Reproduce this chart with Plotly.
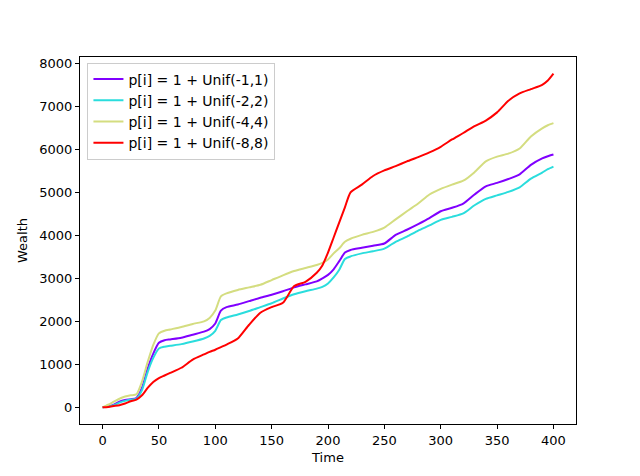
import plotly.graph_objects as go

time = [0, 5, 10, 15, 20, 25, 30, 35, 40, 45, 50, 55, 60, 70, 80, 90, 95, 100, 105, 110,
        120, 130, 140, 150, 160, 170, 180, 190, 195, 200, 205, 210, 215, 220, 230, 240,
        250, 260, 270, 280, 290, 300, 310, 320, 330, 340, 350, 360, 370, 380, 390, 395, 400]

wealth_1 = [0, 20, 60, 130, 170, 190, 215, 450, 900, 1250, 1500, 1560, 1580, 1620, 1690, 1760, 1820, 1950, 2250, 2330,
            2390, 2470, 2550, 2620, 2700, 2790, 2860, 2930, 3000, 3080, 3210, 3400, 3600, 3660, 3710, 3760,
            3810, 4010, 4130, 4260, 4400, 4560, 4640, 4740, 4950, 5140, 5220, 5310, 5420, 5640, 5790, 5840, 5880]

wealth_2 = [0, 15, 50, 110, 150, 175, 200, 400, 820, 1150, 1370, 1410, 1430, 1470, 1530, 1600, 1660, 1780, 2030, 2090,
            2160, 2240, 2330, 2420, 2530, 2630, 2700, 2760, 2800, 2880, 3020, 3200, 3450, 3510, 3580, 3630,
            3690, 3850, 3970, 4110, 4230, 4360, 4430, 4510, 4700, 4850, 4930, 5010, 5115, 5320, 5460, 5540, 5600]

wealth_4 = [0, 60, 130, 200, 250, 280, 300, 600, 1050, 1450, 1720, 1780, 1810, 1870, 1940, 2000, 2080, 2250, 2580, 2650,
            2730, 2790, 2850, 2960, 3070, 3170, 3240, 3310, 3360, 3440, 3580, 3700, 3850, 3920, 4010, 4080,
            4180, 4370, 4560, 4740, 4950, 5080, 5180, 5270, 5470, 5720, 5830, 5900, 6020, 6300, 6490, 6560, 6610]

wealth_8 = [0, 10, 30, 50, 90, 140, 180, 280, 450, 590, 680, 740, 800, 920, 1110, 1230, 1290, 1340, 1400, 1460,
            1600, 1920, 2200, 2330, 2430, 2820, 2920, 3130, 3300, 3600, 3950, 4300, 4650, 5000, 5180, 5380,
            5510, 5610, 5720, 5820, 5930, 6060, 6230, 6380, 6540, 6670, 6860, 7130, 7300, 7400, 7500, 7600, 7760]

labels = ["p[i] = 1 + Unif(-1,1)", "p[i] = 1 + Unif(-2,2)", "p[i] = 1 + Unif(-4,4)", "p[i] = 1 + Unif(-8,8)"]
colors = ["#8000ff", "#2adddd", "#d4dd80", "#ff0000"]
x_ticks = [0, 50, 100, 150, 200, 250, 300, 350, 400]
y_ticks = [0, 1000, 2000, 3000, 4000, 5000, 6000, 7000, 8000]

fig = go.Figure()
for ys, name, c in zip([wealth_1, wealth_2, wealth_4, wealth_8], labels, colors):
    fig.add_trace(go.Scatter(x=time, y=ys, mode="lines", name=name,
                             line=dict(color=c, width=2, shape="spline", smoothing=0.6)))

font = dict(family="DejaVu Sans", size=13, color="black")
legend_font = dict(family="DejaVu Sans", size=14, color="black")
axis_common = dict(showgrid=False, zeroline=False, showline=True, linecolor="black", linewidth=1,
                   mirror=True, ticks="outside", ticklen=4, tickcolor="black", tickfont=font,
                   automargin=False)
fig.update_layout(
    width=640, height=476,
    margin=dict(l=80, r=64, t=57, b=52),
    paper_bgcolor="white", plot_bgcolor="white",
    font=font,
    xaxis=dict(range=[-20, 420], tickvals=x_ticks, title=dict(text="Time", font=font, standoff=6), **axis_common),
    yaxis=dict(range=[-388, 8148], tickvals=y_ticks, title=dict(text="Wealth", font=font, standoff=8), **axis_common),
    legend=dict(x=0.015, y=0.985, xanchor="left", yanchor="top", bgcolor="white",
                bordercolor="#cccccc", borderwidth=1, font=legend_font, tracegroupgap=0),
    showlegend=True,
)
fig.write_html("out.html", config={"displayModeBar": False},
               post_script="document.body.style.margin='0';")
